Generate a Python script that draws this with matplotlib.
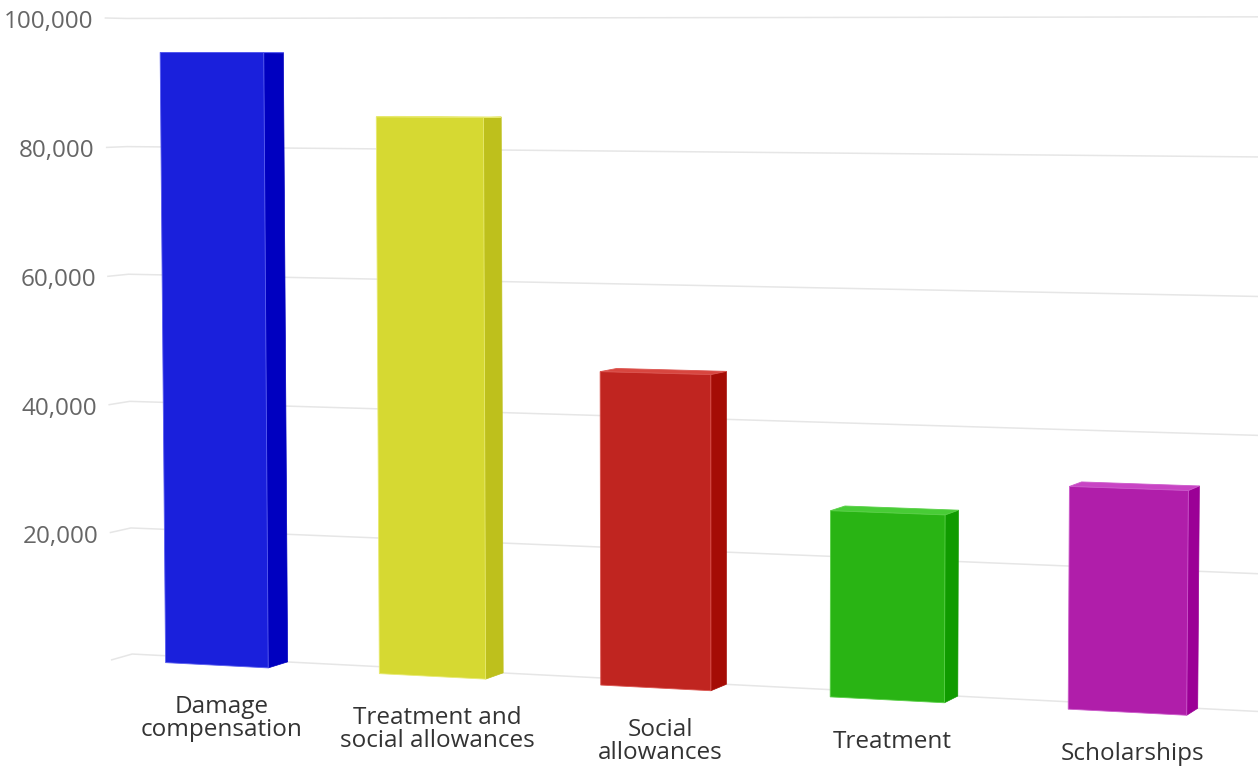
import numpy as np
import matplotlib.pyplot as plt
from matplotlib.patches import Polygon

# Dades del gràfic
categories = ['Damage\ncompensation', 'Treatment and\nsocial allowances', 'Social\nallowances', 'Treatment', 'Scholarships']
values = [94700, 85000, 47200, 27600, 32400]
y_ticks = [0, 20000, 40000, 60000, 80000, 100000]

front_colors = ['#1a20dc', '#d6d932', '#c02520', '#29b414', '#b01eaa']
side_colors = ['#0000c0', '#bec01c', '#a50c05', '#109b00', '#9b0096']
top_colors = ['#4a50ec', '#e4e664', '#d8463f', '#48cc36', '#c844c4']
edge_colors = ['#5a5ff0', '#e8ea70', '#dc5550', '#5ad048', '#cc5acb']

# Vista 3D (matriu de projecció en perspectiva)
# coordenades del món: x = categoria, y = valor / 10000, z = profunditat (0 davant, 1 paret del fons)
view = np.array([
    [2.06277502e+02, -7.36124407e-01, 2.17382948e+01, 1.11691380e+02],
    [-6.14266721e-01, -6.42022426e+01, 6.32523376e-01, 6.59837655e+02],
    [-1.72011997e-02, -1.01803126e-03, 9.83577643e-03, 1.00000000e+00],
])
bar_width = 0.4845
bar_depth = 1.0128


def project(points):
    pts = np.asarray(points, float)
    h = np.c_[pts, np.ones(len(pts))] @ view.T
    return h[:, :2] / h[:, 2:3]


plt.rcParams['font.family'] = ['Open Sans', 'DejaVu Sans']
fig = plt.figure(figsize=(12.58, 7.68), dpi=100)
ax = fig.add_axes([0, 0, 1, 1])
ax.set_xlim(0, 1258)
ax.set_ylim(768, 0)
ax.axis('off')

# Línies de la graella (paret lateral i paret del fons) i etiquetes de l'eix Y
n = len(categories)
for t in y_ticks:
    v = t / 10000
    pts = project([(0, v, 0), (0, v, 1), (n + 0.3, v, 1)])
    ax.plot(pts[:, 0], pts[:, 1], color='#e6e6e6', lw=1.1, zorder=1)
    if t > 0:
        x0, y0 = pts[0]
        ax.text(x0 - 12, y0 + 4, f'{t:,}', ha='right', va='center', fontsize=17.5, color='#666666')

# Columnes 3D
for i, val in enumerate(values):
    c = i + 0.5
    h = bar_width / 2
    v = val / 10000
    front = project([(c - h, v, 0), (c + h, v, 0), (c + h, 0, 0), (c - h, 0, 0)])
    side = project([(c + h, v, 0), (c + h, v, bar_depth), (c + h, 0, bar_depth), (c + h, 0, 0)])
    top = project([(c - h, v, 0), (c + h, v, 0), (c + h, v, bar_depth), (c - h, v, bar_depth)])
    ax.add_patch(Polygon(side, closed=True, facecolor=side_colors[i], edgecolor=side_colors[i], lw=0.5, zorder=3))
    ax.add_patch(Polygon(top, closed=True, facecolor=top_colors[i], edgecolor=edge_colors[i], lw=0.6, zorder=3))
    ax.add_patch(Polygon(front, closed=True, facecolor=front_colors[i], edgecolor=edge_colors[i], lw=0.6, zorder=4))

    # Etiqueta de la categoria
    lx, ly = project([(c, 0, 0)])[0]
    ax.text(lx + 5, ly + 30, categories[i], ha='center', va='top', fontsize=17.5,
            color='#333333', linespacing=0.95)

plt.savefig('out.png')
